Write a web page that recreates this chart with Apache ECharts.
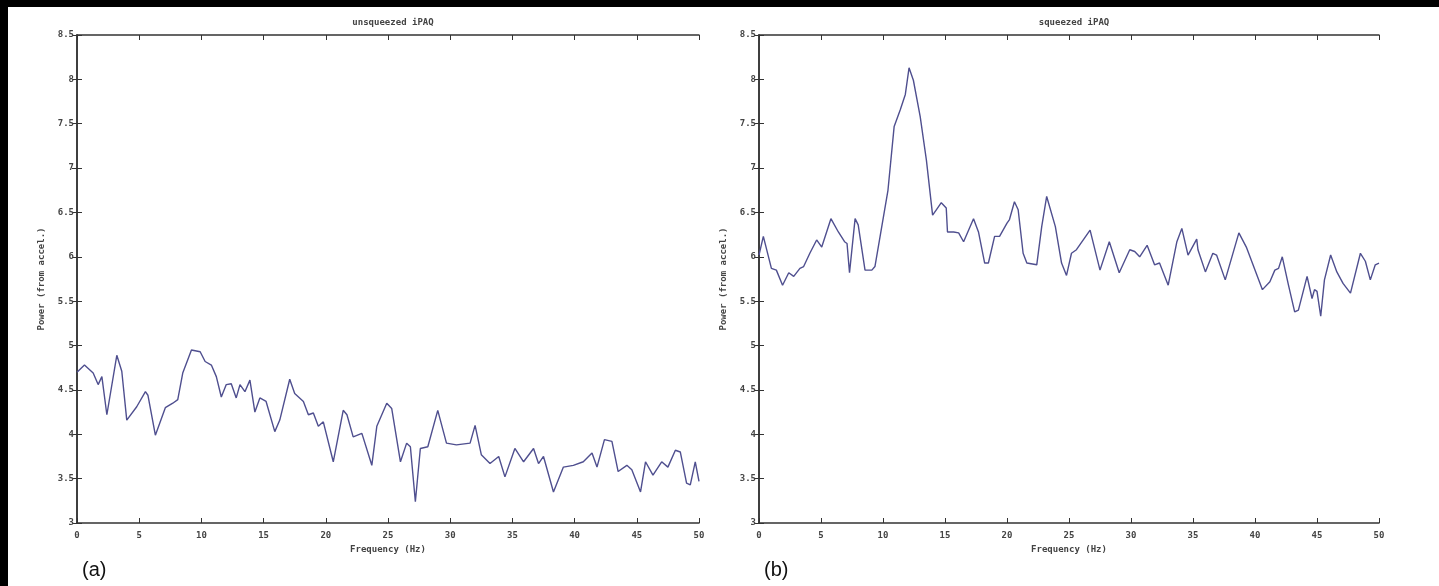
<!DOCTYPE html>
<html>
<head>
<meta charset="utf-8">
<script src="https://cdn.jsdelivr.net/npm/echarts@6/dist/echarts.min.js"></script>
<style>
html,body{margin:0;padding:0;background:#000;width:1439px;height:586px;overflow:hidden;}
#chart{position:absolute;left:8px;top:7px;width:1431px;height:579px;background:#fff;}
</style>
</head>
<body>
<div id="chart"></div>
<script>
// ---- data ----
const titles = ['unsqueezed iPAQ', 'squeezed iPAQ'];
const panelLabels = ['(a)', '(b)'];
const xName = 'Frequency (Hz)';
const yName = 'Power (from accel.)';

const freqA = [0.0,0.6,1.3,1.7,2.0,2.4,3.2,3.6,4.0,4.8,5.5,5.7,6.3,7.1,7.7,8.1,8.5,9.2,9.9,10.3,10.8,11.2,11.6,12.0,12.4,12.8,13.1,13.5,13.9,14.3,14.7,15.2,15.9,16.3,17.1,17.5,18.2,18.6,19.0,19.4,19.8,20.6,21.4,21.7,22.2,22.9,23.7,24.1,24.9,25.3,26.0,26.5,26.8,27.2,27.6,28.2,29.0,29.7,30.5,31.6,32.0,32.5,33.2,33.9,34.4,35.2,35.9,36.7,37.1,37.5,38.3,39.1,39.9,40.7,41.4,41.8,42.4,43.0,43.5,44.2,44.6,45.3,45.7,46.3,47.0,47.5,48.1,48.5,49.0,49.3,49.7,50.0];
const powerA = [4.70,4.78,4.69,4.56,4.65,4.22,4.89,4.71,4.16,4.31,4.48,4.44,3.99,4.30,4.35,4.39,4.69,4.95,4.93,4.82,4.78,4.65,4.42,4.56,4.57,4.41,4.56,4.48,4.61,4.25,4.41,4.37,4.03,4.16,4.62,4.46,4.37,4.22,4.24,4.09,4.14,3.69,4.27,4.22,3.97,4.01,3.65,4.09,4.35,4.29,3.69,3.90,3.86,3.24,3.84,3.86,4.27,3.90,3.88,3.90,4.10,3.77,3.67,3.75,3.52,3.84,3.69,3.84,3.67,3.75,3.35,3.63,3.65,3.69,3.79,3.63,3.94,3.92,3.58,3.65,3.60,3.35,3.69,3.54,3.69,3.63,3.82,3.80,3.45,3.43,3.69,3.47];

const freqB = [0.0,0.35,1.0,1.4,1.9,2.4,2.8,3.3,3.6,4.1,4.65,5.06,5.8,6.4,6.9,7.1,7.3,7.75,8.0,8.55,9.1,9.35,10.4,10.9,11.4,11.8,12.1,12.45,13.0,13.5,14.0,14.3,14.7,15.1,15.2,15.7,16.1,16.5,17.3,17.7,18.2,18.5,19.0,19.4,20.0,20.2,20.6,20.9,21.3,21.6,22.4,22.8,23.2,23.9,24.4,24.8,25.2,25.6,26.7,27.5,28.25,29.05,29.9,30.3,30.7,31.3,31.9,32.3,33.0,33.7,34.1,34.6,35.3,35.4,36.0,36.6,36.9,37.6,38.7,39.3,40.6,41.2,41.6,41.9,42.2,42.7,43.2,43.5,44.2,44.6,44.8,45.0,45.3,45.6,46.1,46.6,47.1,47.7,48.5,48.9,49.3,49.7,50.0];
const powerB = [6.02,6.23,5.87,5.85,5.68,5.82,5.78,5.87,5.89,6.04,6.19,6.11,6.43,6.28,6.17,6.15,5.82,6.43,6.36,5.85,5.85,5.89,6.75,7.47,7.66,7.83,8.13,7.99,7.58,7.09,6.47,6.53,6.61,6.55,6.28,6.28,6.27,6.17,6.43,6.28,5.93,5.93,6.23,6.23,6.38,6.42,6.62,6.53,6.04,5.93,5.91,6.34,6.68,6.34,5.93,5.79,6.04,6.08,6.30,5.85,6.17,5.82,6.08,6.06,6.00,6.13,5.91,5.93,5.68,6.17,6.32,6.02,6.20,6.08,5.83,6.04,6.02,5.74,6.27,6.11,5.63,5.72,5.85,5.87,6.00,5.68,5.38,5.40,5.78,5.53,5.63,5.61,5.33,5.74,6.02,5.83,5.70,5.59,6.04,5.95,5.74,5.91,5.93];

const xMin = 0, xMax = 50, xStep = 5;
const yMin = 3, yMax = 8.5, yStep = 0.5;

// ---- chart ----
const mono = 'DejaVu Sans Mono';
const ink = '#333';
const lineColor = '#4f4f8f';
const grids = [
  {left: 69, top: 28, width: 622, height: 488},
  {left: 751, top: 28, width: 620, height: 488}
];

function pairs(xs, ys) { return xs.map((x, i) => [x, ys[i]]); }

const xAxes = [], yAxes = [], series = [], titleArr = [], graphics = [];
grids.forEach((g, i) => {
  const axLine = {show: true, lineStyle: {color: ink, width: 1.5}};
  const tick = {show: true, inside: true, length: 5, lineStyle: {color: ink, width: 1}};
  const lbl = {color: '#444', fontFamily: mono, fontSize: 9, fontWeight: 'bold'};
  xAxes.push({type: 'value', gridIndex: i, position: 'bottom', min: xMin, max: xMax, interval: xStep,
    axisLine: axLine, axisTick: tick, splitLine: {show: false},
    axisLabel: Object.assign({margin: 8}, lbl),
    name: xName, nameLocation: 'middle', nameGap: 15,
    nameTextStyle: {color: '#444', fontFamily: mono, fontSize: 9, fontWeight: 'bold'}});
  xAxes.push({type: 'value', gridIndex: i, position: 'top', min: xMin, max: xMax, interval: xStep,
    axisLine: axLine, axisTick: tick, splitLine: {show: false}, axisLabel: {show: false}});
  yAxes.push({type: 'value', gridIndex: i, position: 'left', min: yMin, max: yMax, interval: yStep,
    axisLine: axLine, axisTick: tick, splitLine: {show: false},
    axisLabel: Object.assign({margin: 3, formatter: v => String(v)}, lbl),
    name: yName, nameLocation: 'middle', nameGap: 31, nameRotate: 90,
    nameTextStyle: {color: '#444', fontFamily: mono, fontSize: 9, fontWeight: 'bold'}});
  yAxes.push({type: 'value', gridIndex: i, position: 'right', min: yMin, max: yMax, interval: yStep,
    axisLine: axLine, axisTick: tick, splitLine: {show: false}, axisLabel: {show: false}});
  titleArr.push({text: titles[i], left: g.left + g.width / 2, textAlign: 'center', top: 6,
    textStyle: {color: '#444', fontFamily: mono, fontSize: 9, fontWeight: 'bold'}});
  graphics.push({type: 'text', left: g.left + 5, top: 553,
    style: {text: panelLabels[i], fill: '#111', font: '20px "Liberation Sans", Arial, sans-serif'}});
});

series.push({type: 'line', xAxisIndex: 0, yAxisIndex: 0, data: pairs(freqA, powerA),
  showSymbol: false, lineStyle: {color: lineColor, width: 1.4}, itemStyle: {color: lineColor}, animation: false});
series.push({type: 'line', xAxisIndex: 2, yAxisIndex: 2, data: pairs(freqB, powerB),
  showSymbol: false, lineStyle: {color: lineColor, width: 1.4}, itemStyle: {color: lineColor}, animation: false});

const chart = echarts.init(document.getElementById('chart'), null, {renderer: 'canvas'});
chart.setOption({
  backgroundColor: '#fff',
  animation: false,
  title: titleArr,
  grid: grids,
  xAxis: xAxes,
  yAxis: yAxes,
  series: series,
  graphic: graphics
});
</script>
</body>
</html>
